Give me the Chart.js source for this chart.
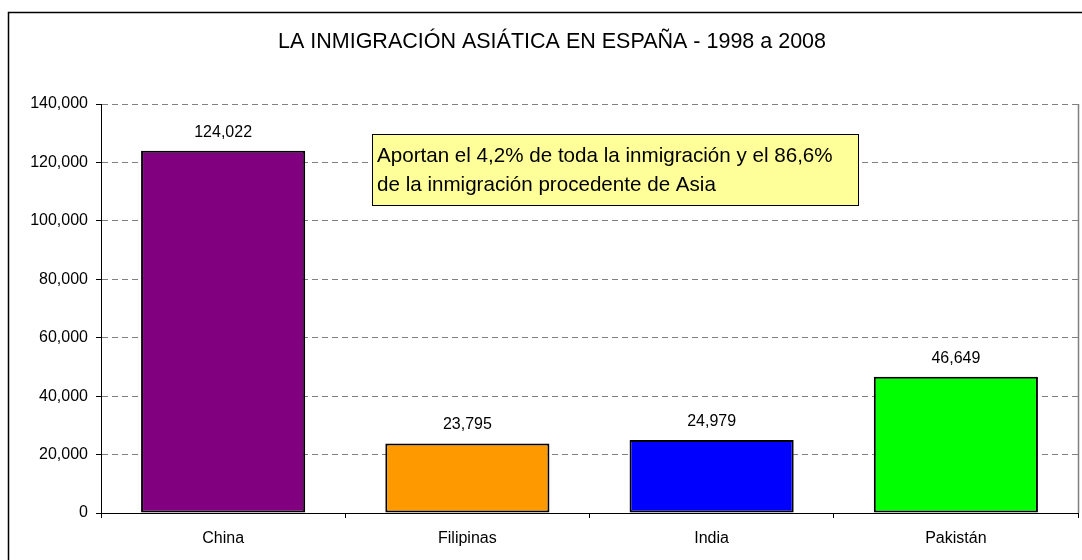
<!DOCTYPE html>
<html>
<head>
<meta charset="utf-8">
<script src="https://cdn.jsdelivr.net/npm/chart.js@4.4.1/dist/chart.umd.min.js"></script>
<style>
  html, body { margin: 0; padding: 0; background: #fff; }
  #wrap { width: 1082px; height: 560px; position: relative; }
</style>
</head>
<body>
<div id="wrap"><canvas id="c" width="1082" height="560"></canvas></div>
<script>
// ——— DATA ———
const countries = ["China", "Filipinas", "India", "Pakistán"];
const immigrants = [124022, 23795, 24979, 46649];
const barColors = ["#800080", "#FF9900", "#0000FF", "#00FF00"];
const yTicks = [0, 20000, 40000, 60000, 80000, 100000, 120000, 140000];
const chartTitle = "LA INMIGRACIÓN ASIÁTICA EN ESPAÑA - 1998 a 2008";
const noteLines = ["Aportan el 4,2% de toda la inmigración y el 86,6%", "de la inmigración procedente de Asia"];

const FONT = "'Liberation Sans', Arial, sans-serif";
const fmt = v => v.toLocaleString('en-US');

// ——— DECORATIONS: border, title, labels, note ———
const extras = {
    id: 'extras',
    beforeDraw(chart) {
        const ctx = chart.ctx;
        ctx.save();
        ctx.fillStyle = '#fff';
        ctx.fillRect(0, 0, chart.width, chart.height);
        ctx.strokeStyle = '#000';
        ctx.lineWidth = 1.5;
        ctx.strokeRect(8.5, 12.5, 1200, 700);
        ctx.restore();
    },
    afterDraw(chart) {
        const ctx = chart.ctx;
        const a = chart.chartArea;
        ctx.save();
        // plot area right edge
        ctx.strokeStyle = '#808080';
        ctx.lineWidth = 1.5;
        ctx.beginPath();
        ctx.moveTo(a.right + 0.5, a.top);
        ctx.lineTo(a.right + 0.5, a.bottom);
        ctx.stroke();

        // title
        ctx.fillStyle = '#000';
        ctx.font = '21.5px ' + FONT;
        ctx.textAlign = 'center';
        ctx.textBaseline = 'alphabetic';
        ctx.fillText(chartTitle, 552, 48);

        // value labels
        ctx.font = '16px ' + FONT;
        chart.getDatasetMeta(0).data.forEach((bar, i) => {
            ctx.fillText(fmt(immigrants[i]), bar.x, bar.y - 14);
        });

        // note box
        ctx.fillStyle = '#ffff99';
        ctx.fillRect(372, 134, 486, 71);
        ctx.strokeStyle = '#000';
        ctx.lineWidth = 1;
        ctx.strokeRect(372.5, 134.5, 486, 71);
        ctx.fillStyle = '#000';
        ctx.font = '20.6px ' + FONT;
        ctx.textAlign = 'left';
        ctx.fillText(noteLines[0], 377, 162);
        ctx.fillText(noteLines[1], 377, 191);
        ctx.restore();
    }
};

new Chart(document.getElementById('c'), {
    type: 'bar',
    data: {
        labels: countries,
        datasets: [{
            data: immigrants,
            backgroundColor: barColors,
            borderColor: '#000',
            borderWidth: 2,
            borderSkipped: false,
            categoryPercentage: 1,
            barPercentage: 0.672
        }]
    },
    options: {
        responsive: false,
        animation: false,
        devicePixelRatio: 1,
        layout: { padding: { top: 104, right: 4, bottom: 0, left: 0 } },
        plugins: { legend: { display: false }, title: { display: false }, tooltip: { enabled: false } },
        scales: {
            x: {
                afterFit: s => { s.height = 47; },
                grid: { offset: true, drawOnChartArea: false, tickLength: 5, tickColor: '#000', tickWidth: 1 },
                border: { color: '#000', width: 1 },
                ticks: { color: '#000', font: { family: FONT, size: 16 }, padding: 11 }
            },
            y: {
                min: 0, max: 140000,
                afterFit: s => { s.width = 101; },
                afterBuildTicks: s => { s.ticks = yTicks.map(v => ({ value: v })); },
                grid: { color: '#808080', lineWidth: 1, tickLength: 5, tickColor: '#000', tickWidth: 1, tickBorderDash: [] },
                border: { color: '#000', width: 1, dash: [6, 4] },
                ticks: { color: '#000', font: { family: FONT, size: 16 }, padding: 8, callback: v => fmt(v) }
            }
        }
    },
    plugins: [extras]
});
</script>
</body>
</html>
